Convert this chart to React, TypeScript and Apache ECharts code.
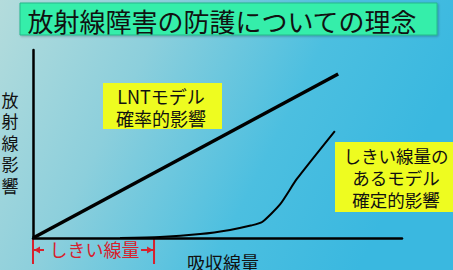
import React, { useEffect, useRef } from "react";
import * as echarts from "echarts";

// Data (x: absorbed dose, y: radiation effect; arbitrary units 0-100)
const lntDose = [0, 82.7];
const lntEffect = [0, 87.2];
const thrDose = [23.6, 34.4, 45.3, 53.4, 59.0, 62.1, 67.0, 71.5, 81.8];
const thrEffect = [0, 0.5, 2.1, 4.3, 6.6, 8.5, 18.0, 31.4, 56.9];
const thresholdDose = 32.8;

const titleText = "放射線障害の防護についての理念";
const yLabel = "放射線影響";
const xLabel = "吸収線量";
const lntLines = ["LNTモデル", "確率的影響"];
const thrLines = ["しきい線量の", "あるモデル", "確定的影響"];
const bracketLabel = "しきい線量";

const FONT = "'Noto Sans CJK JP', 'Noto Sans', sans-serif";
const RED = "#d8202c";

export default function App() {
  const ref = useRef<HTMLDivElement>(null);
  useEffect(() => {
    if (!ref.current) return;
    const chart = echarts.init(ref.current, null, { renderer: "svg" });
    const axisCommon = {
      type: "value" as const,
      min: 0,
      max: 100,
      splitLine: { show: false },
      axisTick: { show: false },
      axisLabel: { show: false },
      axisLine: { show: true, lineStyle: { color: "#000", width: 2.5 } },
    };
    chart.setOption({
      animation: false,
      backgroundColor: {
        type: "linear",
        x: 0,
        y: 0,
        x2: 1,
        y2: 0.3,
        colorStops: [
          { offset: 0, color: "#b4dcdc" },
          { offset: 0.35, color: "#8ccfdc" },
          { offset: 0.7, color: "#4cbfe0" },
          { offset: 1, color: "#3ab8e0" },
        ],
      },
      grid: { left: 33, right: 51, top: 50, bottom: 32, containLabel: false },
      xAxis: axisCommon,
      yAxis: axisCommon,
      series: [
        {
          type: "line",
          data: lntDose.map((d, i) => [d, lntEffect[i]]),
          symbol: "none",
          lineStyle: { color: "#000", width: 3.5 },
          z: 3,
        },
        {
          type: "line",
          data: thrDose.map((d, i) => [d, thrEffect[i]]),
          symbol: "none",
          smooth: 0.2,
          lineStyle: { color: "#000", width: 2 },
          z: 3,
        },
      ],
    });

    const x0 = chart.convertToPixel({ xAxisIndex: 0 }, 0) as number;
    const x1 = chart.convertToPixel({ xAxisIndex: 0 }, thresholdDose) as number;
    const yb = chart.convertToPixel({ yAxisIndex: 0 }, 0) as number;
    const ya = yb + 12;

    const textStyle = (t: string, size: number, fill: string) => ({
      text: t,
      font: `${size}px ${FONT}`,
      fill,
      align: "center",
      verticalAlign: "middle",
    });

    chart.setOption({
      graphic: [
        // Title box
        {
          type: "rect",
          shape: { x: 20, y: 3, width: 417, height: 32 },
          style: {
            fill: "#35eeaa",
            stroke: "#26b88a",
            lineWidth: 1,
            shadowColor: "rgba(0,0,0,0.25)",
            shadowOffsetX: 1,
            shadowOffsetY: 1,
            shadowBlur: 2,
          },
        },
        { type: "text", x: 222, y: 20, style: textStyle(titleText, 26, "#111") },
        // Y label
        {
          type: "text",
          x: 10,
          y: 142,
          style: {
            text: yLabel.split("").join("\n"),
            font: `17px ${FONT}`,
            lineHeight: 21.5,
            fill: "#111",
            align: "center",
            verticalAlign: "middle",
          },
        },
        // X label
        { type: "text", x: 223, y: 262, style: textStyle(xLabel, 18, "#111") },
        // LNT box
        {
          type: "rect",
          shape: { x: 103, y: 83, width: 119, height: 46 },
          style: { fill: "#eefc20" },
        },
        { type: "text", x: 161, y: 96, style: textStyle(lntLines[0], 18, "#111") },
        { type: "text", x: 161, y: 118, style: textStyle(lntLines[1], 18, "#111") },
        // Threshold box
        {
          type: "rect",
          shape: { x: 335, y: 142, width: 118, height: 70 },
          style: { fill: "#eefc20" },
        },
        ...thrLines.map((t, i) => ({
          type: "text",
          x: 396,
          y: 155 + i * 22,
          style: textStyle(t, 17.5, "#111"),
        })),
        // Threshold bracket
        {
          type: "line",
          shape: { x1: x0, y1: yb, x2: x0, y2: yb + 26 },
          style: { stroke: RED, lineWidth: 2 },
        },
        {
          type: "line",
          shape: { x1: x1, y1: yb, x2: x1, y2: yb + 26 },
          style: { stroke: RED, lineWidth: 2 },
        },
        {
          type: "line",
          shape: { x1: x0, y1: ya, x2: x0 + 11, y2: ya },
          style: { stroke: RED, lineWidth: 2 },
        },
        {
          type: "polygon",
          shape: { points: [[x0 + 1, ya], [x0 + 7, ya - 3.5], [x0 + 7, ya + 3.5]] },
          style: { fill: RED },
        },
        {
          type: "line",
          shape: { x1: x1 - 13, y1: ya, x2: x1, y2: ya },
          style: { stroke: RED, lineWidth: 2 },
        },
        {
          type: "polygon",
          shape: { points: [[x1 - 1, ya], [x1 - 7, ya - 3.5], [x1 - 7, ya + 3.5]] },
          style: { fill: RED },
        },
        {
          type: "text",
          x: (x0 + x1) / 2 + 1,
          y: ya - 1,
          style: textStyle(bracketLabel, 18, RED),
        },
      ],
    });
    return () => chart.dispose();
  }, []);
  return (
    <div
      ref={ref}
      style={{ position: "fixed", left: 0, top: 0, width: 453, height: 270 }}
    />
  );
}
